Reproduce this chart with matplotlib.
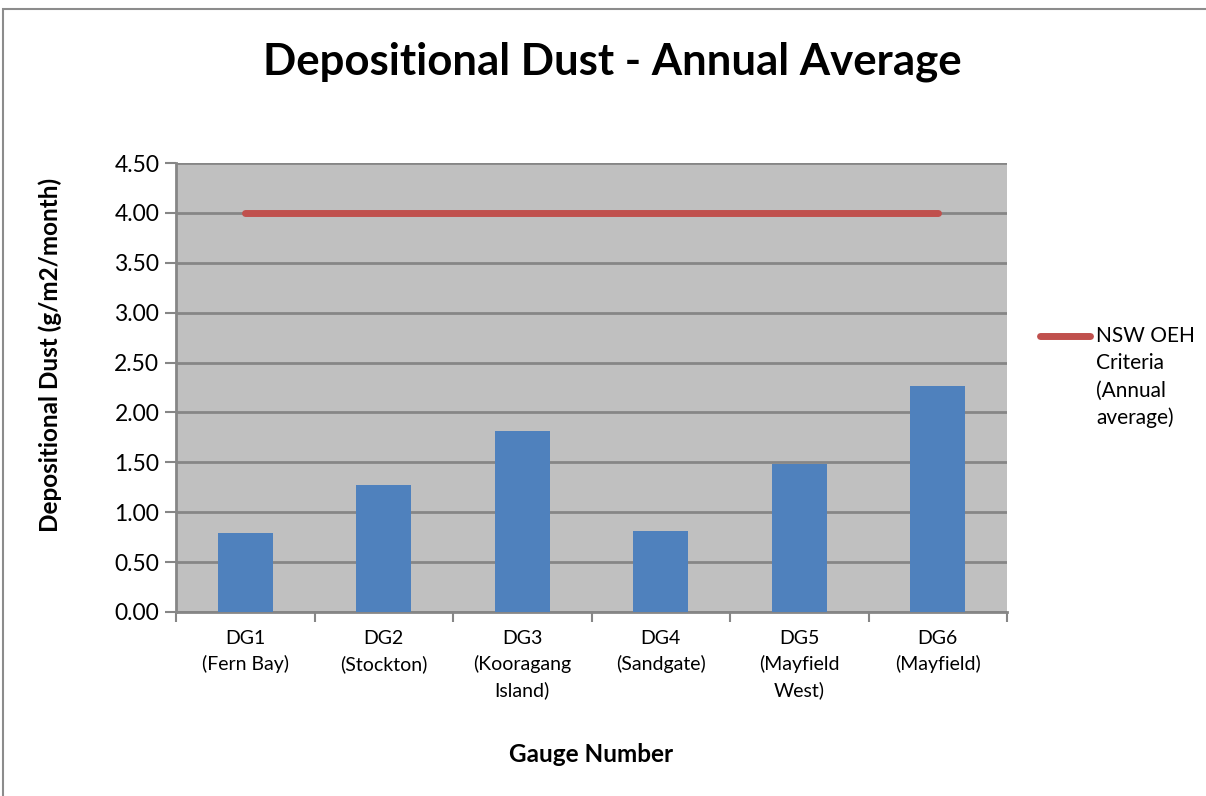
import numpy as np
import matplotlib.pyplot as plt
from matplotlib.patches import Rectangle
from matplotlib.lines import Line2D

# data
gauges = [
    "DG1\n(Fern Bay)",
    "DG2\n(Stockton)",
    "DG3\n(Kooragang\nIsland)",
    "DG4\n(Sandgate)",
    "DG5\n(Mayfield\nWest)",
    "DG6\n(Mayfield)",
]
dustValues = [0.79, 1.27, 1.81, 0.81, 1.48, 2.27]
criteriaValues = [4.0, 4.0, 4.0, 4.0, 4.0, 4.0]
yTicks = [0.0, 0.5, 1.0, 1.5, 2.0, 2.5, 3.0, 3.5, 4.0, 4.5]
criteriaLabel = "NSW OEH\nCriteria\n(Annual\naverage)"

BAR_COLOR = "#4F81BD"
LINE_COLOR = "#C0504D"
GRID_COLOR = "#868686"
FONT = ["Lato", "DejaVu Sans"]

W, H = 1206, 796
fig = plt.figure(figsize=(W / 100, H / 100), dpi=100)
plt.rcParams["font.family"] = FONT

# outer chart border (cropped on right/bottom)
fig.patches.append(
    Rectangle((3 / W, -0.1), 1.2, 1 - 9 / H + 0.1, transform=fig.transFigure,
              fill=False, edgecolor="#8C8C8C", linewidth=1.5)
)

ax = fig.add_axes([176 / W, 1 - 612 / H, (1007 - 176) / W, (612 - 163) / H])
ax.set_facecolor("#C0C0C0")

x = np.arange(len(gauges))
ax.bar(x, dustValues, width=0.4, color=BAR_COLOR, zorder=3)
ax.plot(x, criteriaValues, color=LINE_COLOR, linewidth=5,
        solid_capstyle="round", zorder=4)

ax.set_xlim(-0.5, len(gauges) - 0.5)
ax.set_ylim(0, 4.5)
ax.set_yticks(yTicks)
ax.set_yticklabels([f"{v:.2f}" for v in yTicks], fontsize=16.5)
ax.yaxis.grid(True, color=GRID_COLOR, linewidth=2, zorder=1)
ax.set_axisbelow(True)

ax.set_xticks(x)
ax.set_xticklabels(gauges, fontsize=14, linespacing=1.55)
ax.set_xticks(np.arange(-0.5, len(gauges)), minor=True)
ax.tick_params(axis="x", which="major", length=0, pad=13)
ax.tick_params(axis="x", which="minor", length=7, width=1.5, color=GRID_COLOR)
ax.tick_params(axis="y", length=8, width=1.5, color=GRID_COLOR, pad=4)

for side in ["top", "right"]:
    ax.spines[side].set_visible(False)
for side in ["left", "bottom"]:
    ax.spines[side].set_color(GRID_COLOR)
    ax.spines[side].set_linewidth(2)

fig.text(50 / W, 1 - 355 / H, "Depositional Dust (g/m2/month)", fontsize=17.5,
         fontweight="bold", rotation=90, ha="center", va="center")
fig.text((176 + 1007) / 2 / W, 1 - 754 / H, "Gauge Number", fontsize=17.5,
         fontweight="bold", ha="center", va="center")
fig.text(612 / W, 1 - 62 / H, "Depositional Dust - Annual Average", fontsize=31.5,
         fontweight="bold", ha="center", va="center")

# legend, drawn as Excel lays it out: line beside the first text line
fig.add_artist(Line2D([1040 / W, 1090 / W], [1 - 336 / H, 1 - 336 / H],
                      transform=fig.transFigure, color=LINE_COLOR, linewidth=5,
                      solid_capstyle="round"))
fig.text(1096 / W, 1 - 326 / H, criteriaLabel, fontsize=15, linespacing=1.45,
         ha="left", va="top")

fig.savefig("out.png", dpi=100)
